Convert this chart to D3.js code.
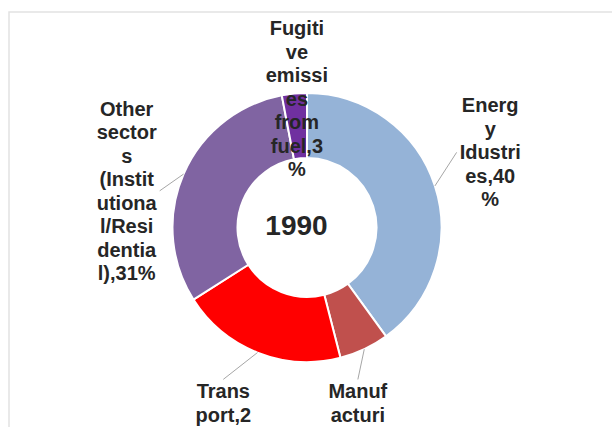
<!DOCTYPE html>
<html>
<head>
<meta charset="utf-8">
<script src="https://cdn.jsdelivr.net/npm/d3@7"></script>
<style>
  body { margin: 0; background: #fff; }
  svg { display: block; }
  text { font-family: Arial, "Liberation Sans", sans-serif; fill: #262626; font-weight: bold; }
</style>
</head>
<body>
<div id="chart"></div>
<script>
// data
const categories = ["Energy Idustries", "Manufacturing", "Transport",
  "Other sectors (Institutional/Residential)", "Fugitive emissies from fuel"];
const shares = [40, 6, 20, 31, 3];
const sliceColors = ["#95b3d7", "#c0504d", "#ff0000", "#8064a2", "#7030a0"];
const centreLabel = "1990";

let width = 612, height = 427;
let cx = 307, cy = 227.5;
let outerR = 134.5, innerR = 69.5;
let fontSize = 20, lineH = 23.5;

// where each data label sits, as a nudge from the slice's mid angle (deg) and a radius
let labelNudge = [
  {da: -4.3, r: 198},
  {da: 10, r: 194},
  {da: 2.5, r: 205},
  {da: -11.9, r: 184},
  {da: 0.9, r: 129}
];

let data = categories.map((c, i) => ({name: c, share: shares[i]}));

let color = d3.scaleOrdinal().domain(categories).range(sliceColors);

let svg = d3.select("#chart")
  .append("svg")
  .attr("width", width)
  .attr("height", height);

// chart area frame (runs off the right and bottom of the picture)
svg.append("rect")
  .attr("x", 9).attr("y", 12)
  .attr("width", 700).attr("height", 500)
  .attr("fill", "none")
  .attr("stroke", "#e2e2e2")
  .attr("stroke-width", 1.5);

let g = svg.append("g").attr("transform", "translate(" + cx + "," + cy + ")");

let pie = d3.pie().sort(null).value(d => d.share);
let arc = d3.arc().innerRadius(innerR).outerRadius(outerR);
let arcs = pie(data);

g.selectAll("path.slice")
  .data(arcs)
  .join("path")
  .attr("class", "slice")
  .attr("d", arc)
  .attr("fill", d => color(d.data.name))
  .attr("stroke", "#fff")
  .attr("stroke-width", 2);

// excel-like wrapping: words first, then characters when a word is too long
let measure = svg.append("text").attr("font-size", fontSize).attr("visibility", "hidden");
function textW(s) { measure.text(s); return measure.node().getComputedTextLength(); }
function wrap(str, maxW) {
  let lines = [], line = "";
  str.split(" ").forEach(word => {
    let trial = line ? line + " " + word : word;
    if (textW(trial) <= maxW) { line = trial; return; }
    if (line) { lines.push(line); line = ""; }
    let chunk = "";
    for (let ch of word) {
      if (textW(chunk + ch) <= maxW) chunk += ch;
      else { lines.push(chunk); chunk = ch; }
    }
    line = chunk;
  });
  if (line) lines.push(line);
  return lines;
}

let maxW = 3.17 * fontSize;

arcs.forEach((d, i) => {
  let mid = (d.startAngle + d.endAngle) / 2;
  let a = mid + labelNudge[i].da * Math.PI / 180;
  let lx = Math.sin(a) * labelNudge[i].r;
  let ly = -Math.cos(a) * labelNudge[i].r;
  let lines = wrap(d.data.name + "," + d.data.share + "%", maxW);
  let top = ly - lines.length * lineH / 2;

  let t = g.append("text")
    .attr("text-anchor", "middle")
    .attr("font-size", fontSize);
  let boxW = 0;
  lines.forEach((s, k) => {
    t.append("tspan")
      .attr("x", lx)
      .attr("y", top + lineH * k + lineH / 2)
      .attr("dy", "0.35em")
      .text(s);
    boxW = Math.max(boxW, textW(s));
  });

  // leader line from the ring to the middle of the facing side of the label
  if (labelNudge[i].r > outerR + 20) {
    let px = Math.sin(mid) * outerR, py = -Math.cos(mid) * outerR;
    let ex, ey;
    if (Math.abs(lx) > Math.abs(ly)) {
      ex = lx - Math.sign(lx) * (boxW / 2 + 3);
      ey = ly;
    } else {
      ex = lx;
      ey = ly - Math.sign(ly) * (lines.length * lineH / 2);
    }
    g.insert("line", "text")
      .attr("x1", px).attr("y1", py)
      .attr("x2", ex).attr("y2", ey)
      .attr("stroke", "#a6a6a6")
      .attr("stroke-width", 1);
  }
});

// year text box sits a little left of the ring centre
g.append("text")
  .attr("x", -10.5)
  .attr("y", -2.5)
  .attr("text-anchor", "middle")
  .attr("dy", "0.35em")
  .attr("font-size", 28)
  .text(centreLabel);

measure.remove();
</script>
</body>
</html>
